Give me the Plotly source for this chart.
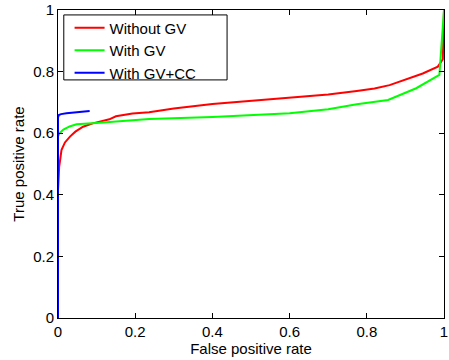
import plotly.graph_objects as go

# Without GV (red)
red_fpr = [0.0, 0.0, 0.003, 0.005, 0.009, 0.018, 0.031, 0.045, 0.065, 0.09, 0.133, 0.15, 0.193, 0.236, 0.3, 0.4, 0.5, 0.6, 0.7, 0.774, 0.82, 0.859, 0.903, 0.945, 0.984, 0.997, 1.0]
red_tpr = [0.0, 0.415, 0.49, 0.513, 0.545, 0.57, 0.589, 0.605, 0.621, 0.632, 0.645, 0.655, 0.664, 0.668, 0.68, 0.695, 0.705, 0.716, 0.726, 0.737, 0.745, 0.756, 0.776, 0.794, 0.816, 0.84, 1.0]

# With GV (green)
green_fpr = [0.0, 0.0, 0.004, 0.014, 0.03, 0.048, 0.108, 0.236, 0.4, 0.6, 0.7, 0.774, 0.855, 0.928, 0.988, 1.0]
green_tpr = [0.0, 0.59, 0.6, 0.612, 0.622, 0.629, 0.634, 0.646, 0.653, 0.665, 0.678, 0.694, 0.708, 0.746, 0.789, 1.0]

# With GV+CC (blue)
blue_fpr = [0.0, 0.0, 0.002, 0.008, 0.022, 0.05, 0.082]
blue_tpr = [0.0, 0.65, 0.659, 0.662, 0.665, 0.669, 0.672]

x_ticks = [0, 0.2, 0.4, 0.6, 0.8, 1]
y_ticks = [0, 0.2, 0.4, 0.6, 0.8, 1]
x_labels = ["0", "0.2", "0.4", "0.6", "0.8", "1"]
y_labels = ["0", "0.2", "0.4", "0.6", "0.8", "1"]

FONT = "Liberation Sans, Arial, Helvetica"

fig = go.Figure()
fig.add_trace(go.Scatter(x=red_fpr, y=red_tpr, mode="lines", name="Without GV",
                         line=dict(color="#ff0000", width=2)))
fig.add_trace(go.Scatter(x=green_fpr, y=green_tpr, mode="lines", name="With GV",
                         line=dict(color="#00ff00", width=2)))
fig.add_trace(go.Scatter(x=blue_fpr, y=blue_tpr, mode="lines", name="With GV+CC",
                         line=dict(color="#0000ff", width=2)))

axis_common = dict(showline=True, linecolor="black", linewidth=1, mirror="ticks",
                   ticks="inside", ticklen=5, tickcolor="black", showgrid=False,
                   zeroline=False, ticklabeloverflow="allow",
                   tickfont=dict(family=FONT, size=15, color="black"))

# MATLAB-style legend frame
fig.add_shape(type="rect", xref="paper", yref="paper",
              x0=0.015, x1=0.438, y0=0.773, y1=0.984,
              line=dict(color="black", width=1), fillcolor="white", layer="below")

fig.update_layout(
    width=449, height=360,
    margin=dict(l=58, r=1, t=10, b=42),
    paper_bgcolor="white", plot_bgcolor="white",
    font=dict(family=FONT, size=15, color="black"),
    xaxis=dict(range=[0, 1], tickvals=x_ticks, ticktext=x_labels,
               title=dict(text="False positive rate", standoff=0, font=dict(size=15)), **axis_common),
    yaxis=dict(range=[0, 1], tickvals=y_ticks, ticktext=y_labels,
               title=dict(text="True positive rate", standoff=4, font=dict(size=15)), **axis_common),
    legend=dict(x=0.03, y=0.995, xanchor="left", yanchor="top",
                borderwidth=0, bgcolor="rgba(0,0,0,0)",
                font=dict(size=15), tracegroupgap=0, itemwidth=30),
    showlegend=True,
)

fig.write_html("out.html")
